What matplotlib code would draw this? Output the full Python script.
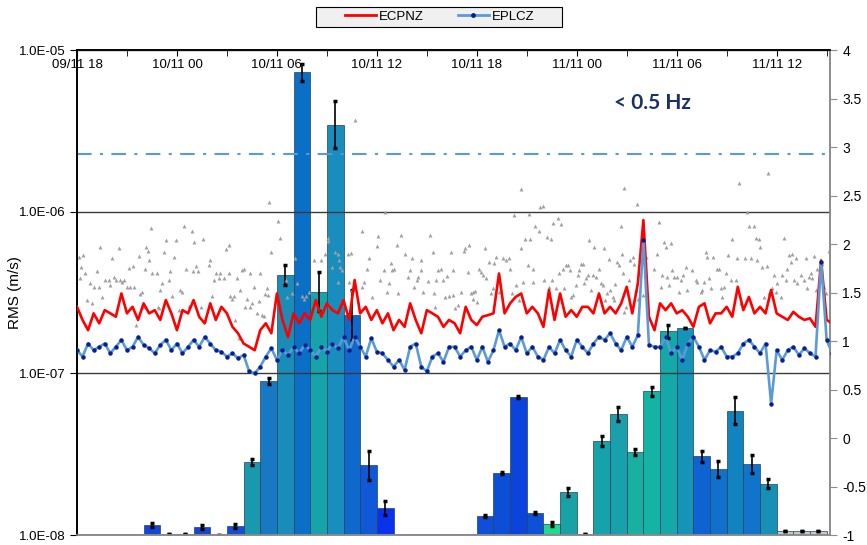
import numpy as np
import matplotlib
matplotlib.use("Agg")
import matplotlib.pyplot as plt
from matplotlib.lines import Line2D
from matplotlib.patches import Rectangle
from matplotlib.ticker import FormatStrFormatter, NullLocator

plt.rcParams["font.family"] = ["Liberation Sans", "DejaVu Sans"]
plt.rcParams["axes.unicode_minus"] = False

# time axis: hours after 09/11 18:00, lines sampled every 20 min
STEP_H = 1 / 3
SCALE = 1e-7  # series values below are in 1e-7 m/s

ECPNZ = [2.58, 2.14, 1.85, 2.35, 2.04, 2.46, 2.35, 2.24, 3.12, 2.35, 2.58, 2.14,
         2.71, 2.35, 2.46, 2.14, 2.84, 2.35, 1.85, 2.46, 2.35, 2.84, 2.24, 2.04,
         2.71, 2.14, 2.58, 2.35, 1.94, 1.77, 1.53, 1.46, 1.39, 1.85, 2.04, 1.77,
         3.12, 2.14, 1.68, 2.35, 2.04, 2.35, 2.14, 2.84, 2.24, 2.71, 2.46, 2.35,
         2.84, 2.14, 3.78, 2.35, 2.58, 2.14, 2.46, 2.04, 2.35, 1.85, 2.14, 1.94,
         2.71, 2.14, 1.77, 2.46, 2.35, 2.24, 1.94, 2.14, 2.04, 1.77, 2.58, 2.14,
         1.99, 2.24, 2.29, 2.35, 4.15, 2.35, 2.71, 2.97, 3.12, 2.35, 2.58, 2.35,
         1.94, 3.28, 2.14, 3.12, 2.24, 2.46, 2.24, 2.58, 2.58, 2.35, 3.12, 2.35,
         2.58, 2.35, 2.71, 3.43, 2.35, 3.60, 8.87, 2.24, 1.85, 2.71, 2.46, 2.71,
         2.35, 2.46, 2.24, 1.94, 2.58, 2.71, 2.04, 2.35, 2.35, 2.58, 2.24, 3.43,
         2.46, 2.97, 2.35, 2.58, 2.35, 3.28, 2.35, 2.24, 2.14, 2.40, 2.24, 2.14,
         2.19, 1.94, 5.00, 2.14, 2.04]

EPLCZ = [1.39, 1.27, 1.53, 1.39, 1.46, 1.53, 1.33, 1.46, 1.61, 1.39, 1.46, 1.68,
         1.50, 1.43, 1.33, 1.50, 1.61, 1.39, 1.53, 1.33, 1.46, 1.61, 1.46, 1.68,
         1.53, 1.39, 1.36, 1.27, 1.33, 1.24, 1.30, 1.03, 1.00, 1.10, 1.27, 1.43,
         1.21, 1.39, 1.30, 1.46, 1.33, 1.50, 1.39, 1.27, 1.46, 1.36, 1.53, 1.43,
         1.68, 1.39, 1.68, 1.46, 1.27, 1.65, 1.36, 1.33, 1.21, 1.10, 1.21, 1.05,
         1.46, 1.53, 1.10, 1.03, 1.27, 1.33, 1.18, 1.46, 1.46, 1.27, 1.39, 1.46,
         1.21, 1.46, 1.18, 1.39, 1.85, 1.46, 1.53, 1.39, 1.68, 1.33, 1.46, 1.27,
         1.21, 1.46, 1.33, 1.61, 1.39, 1.27, 1.61, 1.46, 1.33, 1.53, 1.68, 1.61,
         1.77, 1.53, 1.39, 1.68, 1.46, 1.72, 6.70, 1.50, 1.46, 1.46, 1.68, 1.33,
         1.46, 1.21, 1.53, 1.68, 1.46, 1.21, 1.39, 1.36, 1.46, 1.27, 1.27, 1.33,
         1.53, 1.61, 1.46, 1.33, 1.53, 0.65, 1.39, 1.21, 1.39, 1.46, 1.30, 1.43,
         1.33, 1.27, 4.90, 1.61, 1.33]

# scattered grey points: (hour, value in 1e-7 m/s)
GRAY_DOTS = [
    (0.1, 5.26), (0.36, 5.4), (0.24, 4.56), (0.2, 3.9), (0.5, 4.15), (0.6, 2.84),
    (0.76, 3.6), (0.9, 2.71), (1.04, 3.43), (1.2, 4.3), (1.3, 3.43), (1.4, 6.07),
    (1.5, 2.97), (1.7, 3.78), (1.9, 3.78), (2.0, 3.5), (2.1, 5.2), (2.2, 3.96),
    (2.36, 3.78), (2.5, 6.0), (2.6, 3.78), (2.7, 3.7), (2.8, 3.78), (3.0, 3.43),
    (3.1, 4.5), (3.2, 3.43), (3.36, 4.6), (3.44, 3.43), (3.56, 2.0), (3.7, 5.3),
    (3.8, 3.1), (3.9, 3.2), (4.0, 2.58), (4.1, 4.45), (4.16, 6.07), (4.24, 5.7),
    (4.34, 5.0), (4.44, 7.9), (4.5, 4.15), (4.8, 4.15), (4.85, 2.58), (4.9, 2.55),
    (5.0, 3.28), (5.1, 3.6), (5.24, 5.6), (5.36, 6.7), (5.5, 3.78), (5.6, 4.3),
    (5.7, 3.0), (5.8, 5.26), (5.96, 6.7), (6.1, 2.46), (6.2, 3.3), (6.3, 3.2),
    (6.4, 8.2), (6.56, 4.4), (6.7, 2.6), (6.9, 7.6), (6.96, 4.3), (7.04, 6.5),
    (7.16, 4.6), (7.24, 4.3), (7.44, 2.58), (7.56, 6.8), (7.7, 2.14), (7.9, 4.7),
    (8.0, 5.0), (8.1, 3.0), (8.24, 3.78), (8.36, 4.2), (8.5, 3.9), (8.56, 4.15),
    (8.8, 3.9), (8.96, 5.9), (9.1, 6.2), (9.12, 4.15), (9.2, 3.0), (9.3, 2.9),
    (9.4, 3.0), (9.5, 2.14), (9.6, 3.9), (9.7, 1.65), (9.8, 3.28), (9.9, 4.35),
    (10.0, 4.45), (10.1, 2.58), (10.2, 2.9), (10.36, 4.15), (10.4, 2.58), (10.5, 2.71),
    (10.6, 3.43), (10.8, 2.35), (10.9, 2.8), (10.96, 4.15), (11.1, 2.3), (11.2, 2.25),
    (11.3, 3.1),
    (11.52, 11.5), (12.08, 8.8), (12.18, 6.84), (11.64, 5.65), (11.38, 3.36), (11.44, 3.05),
    (12.52, 3.8), (12.58, 2.97), (13.18, 3.6), (12.88, 3.12), (13.08, 5.15), (13.52, 3.0),
    (13.64, 2.9), (13.72, 3.0), (13.92, 3.2), (14.24, 5.0), (14.64, 5.05), (14.88, 5.5),
    (15.04, 6.85), (15.08, 6.6), (15.12, 2.65), (15.28, 4.56), (15.48, 5.6), (15.64, 5.45),
    (15.72, 5.0), (15.78, 4.56), (15.92, 4.35), (15.64, 3.7), (16.24, 5.45), (16.44, 5.55),
    (16.32, 3.7), (16.52, 3.28), (16.68, 36.9), (17.08, 7.6), (17.08, 3.43), (17.24, 3.7),
    (17.38, 4.45), (17.52, 5.2), (17.68, 2.97), (17.98, 6.1), (18.08, 7.1), (18.18, 3.8),
    (18.4, 4.35), (18.48, 10.0), (18.58, 3.2), (18.72, 3.6), (18.84, 4.8), (18.92, 4.35),
    (19.04, 4.4), (19.18, 6.2), (19.28, 3.12), (19.44, 7.2), (19.68, 5.5), (19.88, 3.96),
    (19.98, 4.35), (20.08, 5.2), (20.24, 3.4), (20.38, 3.8), (20.48, 3.96), (20.64, 4.35),
    (20.68, 5.0), (20.78, 3.2), (21.08, 3.75), (21.18, 7.2), (21.38, 5.6), (21.44, 3.12),
    (21.52, 2.58), (21.58, 3.78), (21.68, 4.35), (21.88, 4.45), (21.98, 3.8), (22.08, 2.97),
    (22.24, 4.0), (22.32, 3.0), (22.48, 5.6), (22.58, 3.05),
    (22.56, 4.35), (22.72, 2.52), (22.86, 2.64), (23.06, 3.2), (23.26, 5.7), (23.32, 5.95),
    (23.46, 4.25), (23.56, 6.2), (23.66, 3.12), (23.76, 3.2), (23.8, 2.9), (23.92, 3.23),
    (24.0, 2.77), (24.16, 4.45), (24.26, 4.25), (24.36, 4.05), (24.56, 3.87), (24.52, 5.95),
    (24.72, 4.9), (24.86, 3.12), (24.96, 3.36), (25.06, 4.85), (25.16, 5.26), (25.36, 3.2),
    (25.6, 5.2), (25.76, 5.0), (25.92, 5.15), (26.0, 4.45), (26.12, 3.12), (26.26, 9.6),
    (26.36, 3.52), (26.52, 2.84), (26.66, 6.0), (26.66, 13.8), (26.8, 3.7), (26.92, 6.8),
    (27.06, 4.67), (27.12, 9.7), (27.2, 6.75), (27.36, 4.45), (27.4, 3.7), (27.52, 8.1),
    (27.72, 7.6), (27.8, 10.7), (27.96, 10.8), (28.06, 3.78), (28.2, 7.0), (28.32, 3.43),
    (28.46, 6.8), (28.52, 3.78), (28.6, 8.5), (28.76, 3.36), (28.86, 9.1), (28.92, 4.15),
    (29.06, 8.4), (29.16, 4.45), (29.26, 3.36), (29.36, 4.67), (29.46, 4.67), (29.6, 4.35),
    (29.66, 2.97), (29.76, 3.05), (29.96, 3.52), (30.06, 4.05), (30.16, 4.35), (30.26, 4.78),
    (30.36, 4.78), (30.46, 3.6), (30.56, 3.87), (30.66, 4.05), (30.76, 6.7), (30.86, 3.28),
    (30.96, 4.05), (31.06, 6.07), (31.16, 3.96), (31.36, 4.45), (31.46, 3.6), (31.56, 3.52),
    (31.66, 5.95), (31.72, 2.84), (31.8, 3.12), (31.92, 5.1), (32.0, 3.28), (32.16, 2.97),
    (32.24, 2.84), (32.32, 3.57), (32.4, 4.9), (32.56, 4.67), (32.66, 8.1), (32.72, 5.5),
    (32.8, 4.15), (32.86, 2.4), (32.86, 14.1), (32.96, 2.58), (33.12, 3.78), (33.2, 5.0),
    (33.36, 5.26), (33.46, 4.78), (33.56, 3.28), (33.6, 11.1), (33.66, 2.9), (33.86, 6.07),
    (33.96, 3.05),
    (34.14, 5.26), (34.64, 4.45), (34.84, 5.5), (34.94, 8.66), (35.08, 3.43), (35.14, 4.05),
    (35.24, 6.5), (35.34, 6.07), (35.44, 3.96), (35.54, 3.52), (35.64, 6.37), (35.74, 4.35),
    (35.84, 3.96), (36.04, 3.96), (36.14, 3.2), (36.24, 3.78), (36.4, 4.05), (36.54, 4.56),
    (36.64, 3.28), (36.94, 4.35), (37.14, 3.78), (37.24, 3.7), (37.44, 3.2), (37.54, 3.28),
    (37.64, 3.7), (37.74, 5.65), (37.84, 5.26), (37.94, 3.87), (38.04, 3.36), (38.2, 5.26),
    (38.4, 4.45), (38.54, 4.45), (38.64, 3.36), (38.74, 2.97), (38.84, 3.43), (38.94, 4.15),
    (39.08, 5.4), (39.24, 3.78), (39.34, 6.75), (39.54, 3.8), (39.64, 5.15), (39.74, 15.1),
    (39.84, 2.71), (40.08, 5.15), (40.24, 10.0), (40.34, 8.1), (40.44, 5.15), (40.64, 8.1),
    (40.74, 6.9), (40.84, 5.0), (40.94, 6.75), (41.0, 6.07), (41.14, 4.56), (41.24, 2.97),
    (41.44, 4.6), (41.47, 17.3), (41.54, 3.12), (41.74, 3.36), (41.84, 4.05), (41.94, 3.2),
    (42.04, 3.6), (42.24, 2.97), (42.34, 4.05), (42.44, 6.9), (42.54, 3.78), (42.64, 4.4),
    (42.74, 5.4), (42.84, 4.9), (42.94, 5.5), (43.04, 3.78), (43.14, 5.15), (43.24, 3.6),
    (43.44, 4.05), (43.64, 3.78), (43.74, 5.15), (43.84, 3.36), (43.94, 3.96), (44.04, 4.15),
    (44.14, 3.87), (44.24, 5.3), (44.34, 3.28), (44.44, 4.4), (44.64, 3.96), (44.74, 4.78),
    (44.84, 3.43), (44.94, 3.12), (45.14, 5.7),
]

# hourly bars on the right axis (start hour, value, error, colour)
BAR_HOURS = [4, 5, 6, 7, 8, 9, 10, 11, 12, 13, 14, 15, 16, 17, 18,
             24, 25, 26, 27, 28, 29, 30, 31, 32, 33, 34, 35, 36, 37, 38, 39, 40, 41,
             42, 43, 44]
BAR_VALUES = [-0.90, -0.99, -0.99, -0.92, -0.995, -0.91, -0.25, 0.59, 1.68, 3.77, 1.51,
              3.23, 1.27, -0.28, -0.72,
              -0.80, -0.36, 0.42, -0.77, -0.89, -0.56, -0.99, -0.03, 0.25, -0.14, 0.48,
              1.10, 1.13, -0.19, -0.32, 0.28, -0.27, -0.47,
              -0.96, -0.96, -0.96]
BAR_ERR = [0.02, 0.0, 0.0, 0.02, 0.0, 0.02, 0.03, 0.03, 0.10, 0.09, 0.20, 0.24, 0.26, 0.15,
           0.07,
           0.01, 0.01, 0.01, 0.01, 0.02, 0.04, 0.0, 0.05, 0.07, 0.03, 0.05, 0.07, 0.0,
           0.06, 0.08, 0.14, 0.09, 0.05,
           0.0, 0.0, 0.0]
BAR_COLORS = ["#1446d6", "#9a9a9a", "#9a9a9a", "#1446d6", "#9a9a9a", "#1450d0", "#1899b0",
              "#1778c4", "#1a8cb8", "#0a6fc6", "#16a3aa", "#178ebd", "#0f68cc", "#0f58d8",
              "#0a32ee",
              "#0e4ed8", "#0c4fd6", "#0a44dc", "#0e50d6", "#22d88c", "#17a3a6", "#9a9a9a",
              "#16a2aa", "#18a0ac", "#19b0a0", "#15b3a4", "#14a8a8", "#1694b8", "#0f62d2",
              "#1070cc", "#1184c0", "#1074ca", "#1690b6",
              "#c8c8c8", "#c8c8c8", "#c8c8c8"]

THRESHOLD = 2.93

X_TICK_LABELS = ["09/11 18", "10/11 00", "10/11 06", "10/11 12", "10/11 18",
                 "11/11 00", "11/11 06", "11/11 12"]
Y_TICKS = [1e-8, 1e-7, 1e-6, 1e-5]
Y_TICK_LABELS = ["1.0E-08", "1.0E-07", "1.0E-06", "1.0E-05"]


fig = plt.figure(figsize=(8.67, 5.45), dpi=100)
ax = fig.add_axes([0.0888, 0.0183, 0.8685, 0.8899])
ax2 = ax.twinx()
# lines in front, bars behind
ax.set_zorder(2)
ax2.set_zorder(1)
ax.patch.set_visible(False)

# bars + error bars (right axis)
hours = np.array(BAR_HOURS, dtype=float)
vals = np.array(BAR_VALUES)
ax2.bar(hours, vals + 1, bottom=-1, width=1, align="edge", color=BAR_COLORS,
        edgecolor="#24405e", linewidth=0.5, zorder=1)
ax2.errorbar(hours + 0.5, vals, yerr=BAR_ERR, fmt="none", ecolor="black",
             elinewidth=1.2, capsize=1.5, capthick=2.5, zorder=2)
ax2.axhline(THRESHOLD, color="#5b9bd5", lw=1.5, ls=(0, (7, 4, 1.5, 4)), zorder=3)
ax2.set_ylim(-1, 4)
ax2.set_yticks(np.arange(-1, 4.01, 0.5))
ax2.yaxis.set_major_formatter(FormatStrFormatter("%g"))
ax2.tick_params(axis="y", direction="out", length=5, color="#8c8c8c",
                labelsize=10, pad=4)

# RMS series (left log axis)
t = np.arange(len(ECPNZ)) * STEP_H
gray_t = np.array([p[0] for p in GRAY_DOTS])
gray_v = np.array([p[1] for p in GRAY_DOTS])
ax.scatter(gray_t, gray_v * SCALE, marker="^", s=8, color="#a0a0a0",
           linewidths=0, zorder=2)
ax.plot(t, np.array(ECPNZ) * SCALE, color="#ff0000", lw=1.9, zorder=3)
ax.plot(t, np.array(EPLCZ) * SCALE, color="#5b9bd5", lw=1.9, marker="o", ms=2.2,
        mfc="#0a1f8f", mec="#0a1f8f", zorder=4)

ax.set_yscale("log")
ax.set_ylim(1e-8, 1e-5)
ax.set_xlim(0, 45.2)
ax.set_yticks(Y_TICKS, Y_TICK_LABELS)
ax.yaxis.set_minor_locator(NullLocator())
ax.grid(axis="y", which="major", color="#3a3a3a", lw=1)
ax.tick_params(axis="y", direction="out", length=5, labelsize=9.5, pad=3)
ax.set_ylabel("RMS (m/s)", fontsize=11)
ax.yaxis.set_label_coords(-0.073, 0.5)

ax.xaxis.tick_top()
ax.set_xticks(np.arange(0, 43, 6), X_TICK_LABELS)
ax.set_xticks(np.arange(3, 46, 6), minor=True)
ax.tick_params(axis="x", which="both", direction="in", length=4, pad=-15,
               labelsize=9.5)

for a in (ax, ax2):
    a.spines["left"].set_color("black")
    a.spines["top"].set_color("black")
    a.spines["right"].set_color("#8c8c8c")
    a.spines["bottom"].set_color("#8c8c8c")
    for s in a.spines.values():
        s.set_linewidth(1.2)

ax.text(0.713, 0.891, "< 0.5 Hz", transform=ax.transAxes, fontsize=15,
        fontweight="bold", color="#1a3263", family=["Lato", "DejaVu Sans"],
        ha="left", va="center")

# legend box drawn separately so its width matches the original
fig.patches.append(Rectangle((316 / 867, 1 - 27 / 545), 246 / 867, 20 / 545,
                             transform=fig.transFigure, facecolor="#f0f0f0",
                             edgecolor="black", lw=0.8))
handles = [Line2D([], [], color="#ff0000", lw=2, label="ECPNZ"),
           Line2D([], [], color="#5b9bd5", lw=2, marker="o", ms=2.5,
                  mfc="#0a1f8f", mec="#0a1f8f", label="EPLCZ")]
fig.legend(handles=handles, loc="center", bbox_to_anchor=(440 / 867, 1 - 17 / 545),
           ncol=2, frameon=False, fontsize=9.5, handlelength=2.3,
           columnspacing=2.6, handletextpad=0.25)

fig.savefig("out.png", dpi=100)
